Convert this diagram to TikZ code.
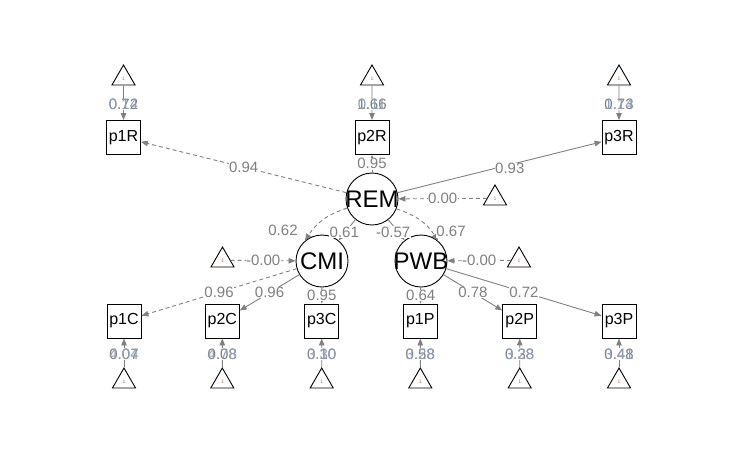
\documentclass[tikz,border=0pt]{standalone}
\usepackage{fontspec}
\setmainfont{Liberation Sans}
\usetikzlibrary{arrows.meta,shapes.geometric}
\definecolor{edgegray}{HTML}{808080}
\definecolor{labgray}{HTML}{7F7F7F}
\definecolor{labblue}{HTML}{8C9DBC}
\definecolor{onered}{HTML}{E0603A}
\begin{document}
\begin{tikzpicture}[x=1pt,y=-1pt,
 manifest/.style={draw=black, line width=0.9pt, minimum size=34pt, inner sep=0pt, font=\fontsize{16}{16}\selectfont},
 latent/.style={circle, draw=black, line width=0.9pt, minimum size=52pt, inner sep=0pt},
 latfont/.style={font=\fontsize{24}{24}\selectfont, inner sep=0pt, text=black},
 intercept/.style={regular polygon, regular polygon sides=3, draw=black, line width=0.9pt, minimum size=26.6pt, inner sep=0pt, font=\fontsize{5}{5}\selectfont, text=onered},
 edgeline/.style={draw=edgegray, line width=0.9pt, -{Triangle[length=7pt,width=5.5pt]}},
 dashededge/.style={edgeline, dash pattern=on 4pt off 3pt},
 lab/.style={font=\fontsize{15}{15}\selectfont, text=labgray, fill=white, inner sep=0.5pt},
 labb/.style={font=\fontsize{15}{15}\selectfont, text=labblue, inner sep=0.5pt},
]
\useasboundingbox (0,0) rectangle (743,459);

% manifest nodes
\node[manifest] (p1R) at (123.5,137.5) {p1R};
\node[manifest] (p2R) at (372,137.5) {p2R};
\node[manifest] (p3R) at (619,137.5) {p3R};
\node[manifest] (p1C) at (124,321) {p1C};
\node[manifest] (p2C) at (222.3,321) {p2C};
\node[manifest] (p3C) at (321.7,321) {p3C};
\node[manifest] (p1P) at (420.3,321) {p1P};
\node[manifest] (p2P) at (519.7,321) {p2P};
\node[manifest] (p3P) at (619,321) {p3P};

% latent nodes
\node[latent, label={[latfont]center:REM}] (REM) at (372,199) {};
\node[latent, label={[latfont]center:CMI}] (CMI) at (322,261) {};
\node[latent, label={[latfont]center:PWB}] (PWB) at (421,261) {};

% intercepts
\node[intercept] (t1R) at (123.5,78.3) {1};
\node[intercept] (t2R) at (372,78.3) {1};
\node[intercept] (t3R) at (619,78.3) {1};
\node[intercept] (tREM) at (495,198.3) {1};
\node[intercept] (tCMI) at (222.5,260.3) {1};
\node[intercept] (tPWB) at (519,260.3) {1};
\node[intercept] (t1C) at (124,381.3) {1};
\node[intercept] (t2C) at (222.3,381.3) {1};
\node[intercept] (t3C) at (321.7,381.3) {1};
\node[intercept] (t1P) at (420.3,381.3) {1};
\node[intercept] (t2P) at (519.7,381.3) {1};
\node[intercept] (t3P) at (619,381.3) {1};

% intercept edges
\draw[edgeline] (t1R) -- node[lab, pos=0.55]{0.72} node[labb, pos=0.55]{0.14} (p1R);
\draw[edgeline] (t2R) -- node[lab, pos=0.55]{1.66} node[labb, pos=0.55]{0.11} (p2R);
\draw[edgeline] (t3R) -- node[lab, pos=0.55]{0.73} node[labb, pos=0.55]{1.14} (p3R);
\draw[edgeline] (t1C) -- node[lab, pos=0.45]{0.07} node[labb, pos=0.45]{4.04} (p1C);
\draw[edgeline] (t2C) -- node[lab, pos=0.45]{0.08} node[labb, pos=0.45]{4.78} (p2C);
\draw[edgeline] (t3C) -- node[lab, pos=0.45]{0.10} node[labb, pos=0.45]{3.30} (p3C);
\draw[edgeline] (t1P) -- node[lab, pos=0.45]{0.58} node[labb, pos=0.45]{3.28} (p1P);
\draw[edgeline] (t2P) -- node[lab, pos=0.45]{0.38} node[labb, pos=0.45]{3.28} (p2P);
\draw[edgeline] (t3P) -- node[lab, pos=0.45]{0.48} node[labb, pos=0.45]{3.41} (p3P);
\draw[dashededge] (tREM) -- node[lab]{0.00} (REM);
\draw[dashededge] (tCMI) -- node[lab]{-0.00} (CMI);
\draw[dashededge] (tPWB) -- node[lab]{-0.00} (PWB);

% loadings
\draw[dashededge] (REM) -- node[lab]{0.94} (p1R);
\draw[edgeline] (REM) -- node[lab]{0.95} (p2R);
\draw[edgeline] (REM) -- node[lab, pos=0.55, yshift=-4pt]{0.93} (p3R);
\draw[dashededge] (CMI) -- node[lab]{0.96} (p1C);
\draw[edgeline] (CMI) -- node[lab]{0.96} (p2C);
\draw[edgeline] (CMI) -- node[lab]{0.95} (p3C);
\draw[edgeline] (PWB) -- node[lab]{0.64} (p1P);
\draw[edgeline] (PWB) -- node[lab]{0.78} (p2P);
\draw[edgeline] (PWB) -- node[lab]{0.72} (p3P);

% regressions
\draw[edgeline] (REM) -- node[lab, pos=0.6, xshift=-1pt]{0.61} (CMI);
\draw[edgeline] (REM) -- node[lab, pos=0.6, xshift=-5pt]{-0.57} (PWB);
\draw[dashededge] (REM.200) to[bend right=20] node[lab, at end, xshift=-22pt, yshift=10pt]{0.62} (CMI.130);
\draw[dashededge] (REM.-22) to[bend left=20] node[lab, at end, xshift=13pt, yshift=9pt]{0.67} (PWB.50);
\end{tikzpicture}
\end{document}
